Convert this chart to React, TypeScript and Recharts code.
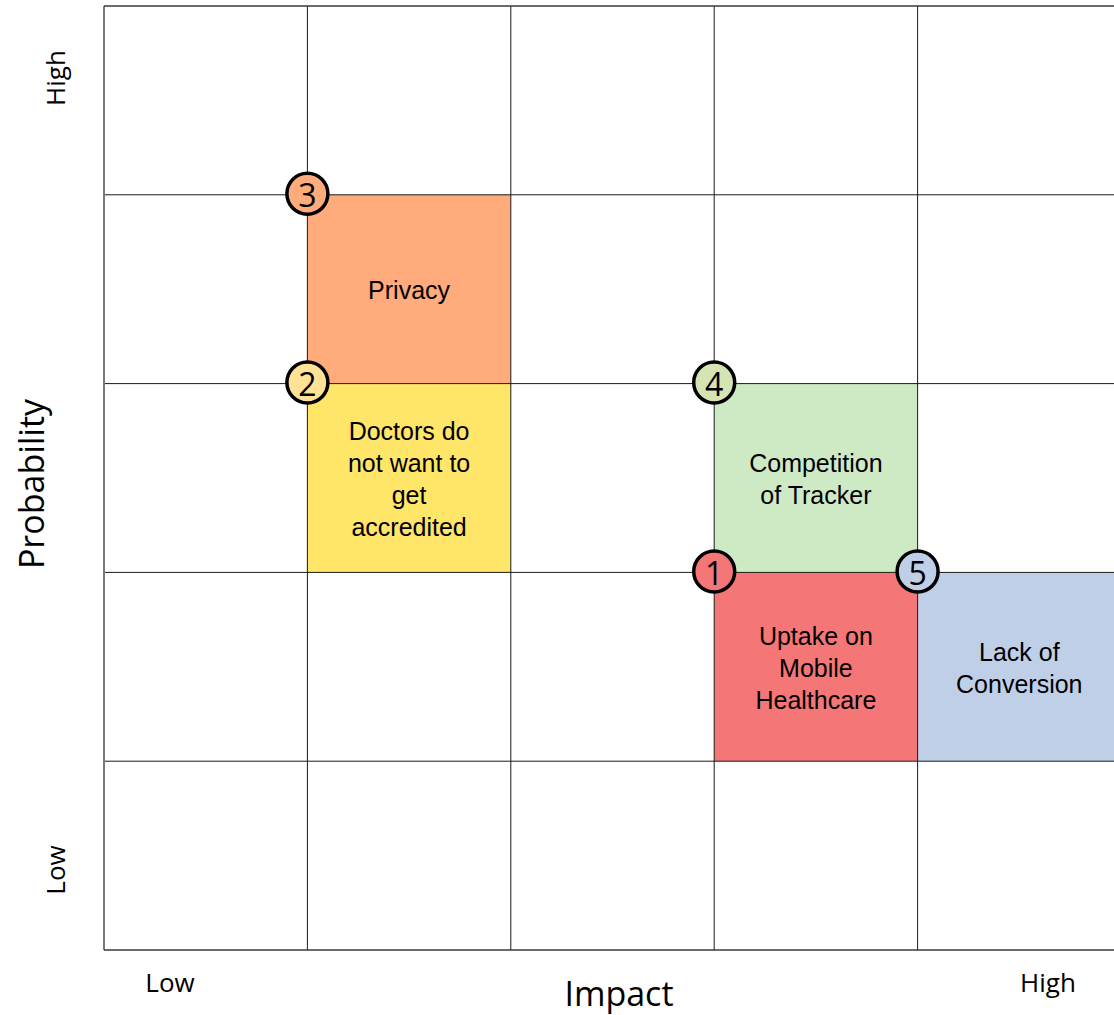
import React from 'react';
import { ScatterChart, Scatter, XAxis, YAxis, ReferenceArea, ReferenceLine } from 'recharts';

// Risk matrix: 5 impact columns x 5 probability rows
const gridSteps = [1, 2, 3, 4];
const impactTicks = ['Low', 'High'];
const probabilityTicks = ['High', 'Low'];

// one entry per risk, cells addressed by their lower-left corner
const riskIds = [1, 2, 3, 4, 5];
const riskImpact = [3, 1, 1, 3, 4];
const riskProbability = [1, 2, 3, 2, 1];
const riskLabels = [
  ['Uptake on', 'Mobile', 'Healthcare'],
  ['Doctors do', 'not want to', 'get', 'accredited'],
  ['Privacy'],
  ['Competition', 'of Tracker'],
  ['Lack of', 'Conversion'],
];
const cellColors = ['#F47676', '#FFE568', '#FFAB7B', '#CDEAC4', '#BFCFE7'];
const badgeColors = ['#F47676', '#FFE295', '#FFAB7B', '#D6E4B4', '#BFCFE7'];

const cells = riskIds.map((id, i) => ({
  id,
  x: riskImpact[i],
  y: riskProbability[i],
  color: cellColors[i],
}));

// badge sits on the top-left corner of the cell
const badges = riskIds.map((id, i) => ({
  id,
  x: riskImpact[i],
  y: riskProbability[i] + 1,
  color: badgeColors[i],
}));

const labels = riskIds.map((id, i) => ({
  id,
  x: riskImpact[i] + 0.5,
  y: riskProbability[i] + 0.5,
  lines: riskLabels[i],
}));

const Badge = (props: any) => {
  const { cx, cy, payload } = props;
  return (
    <g>
      <circle cx={cx} cy={cy - 1} r={20.5} fill={payload.color} stroke="#000" strokeWidth={3.5} />
      <text
        x={cx}
        y={cy}
        textAnchor="middle"
        dominantBaseline="central"
        fontFamily="'Open Sans', sans-serif"
        fontSize={32}
        fill="#000"
      >
        {payload.id}
      </text>
    </g>
  );
};

const CellText = (props: any) => {
  const { cx, cy, payload } = props;
  const lh = 31.7;
  const top = cy - ((payload.lines.length - 1) * lh) / 2 + 1;
  return (
    <text
      textAnchor="middle"
      fontFamily="'Liberation Sans', Arial, sans-serif"
      fontSize={25}
      fill="#000"
    >
      {payload.lines.map((l: string, i: number) => (
        <tspan key={i} x={cx} y={top + i * lh} dominantBaseline="central">
          {l}
        </tspan>
      ))}
    </text>
  );
};

const captionFont = "'Open Sans', sans-serif";

export default function App() {
  return (
    <div style={{ position: 'absolute', left: 0, top: 0, width: 1114, height: 1015, overflow: 'hidden', background: '#fff' }}>
      <ScatterChart width={1126} height={1015} margin={{ top: 6, right: 5, bottom: 65, left: 104 }}>
        <XAxis type="number" dataKey="x" domain={[0, 5]} hide />
        <YAxis type="number" dataKey="y" domain={[0, 5]} hide />
        {cells.map((c) => (
          <ReferenceArea key={c.id} x1={c.x} x2={c.x + 1} y1={c.y} y2={c.y + 1} fill={c.color} fillOpacity={1} stroke="none" />
        ))}
        {gridSteps.map((v) => (
          <ReferenceLine key={'v' + v} x={v} stroke="#1a1a1a" strokeWidth={1} />
        ))}
        {gridSteps.map((v) => (
          <ReferenceLine key={'h' + v} y={v} stroke="#1a1a1a" strokeWidth={1} />
        ))}
        <ReferenceLine x={0} stroke="#7a7a7a" strokeWidth={2} />
        <ReferenceLine y={5} stroke="#3a3a3a" strokeWidth={1.5} />
        <ReferenceLine y={0} stroke="#3a3a3a" strokeWidth={1.5} />
        <Scatter data={labels} shape={CellText} isAnimationActive={false} />
        <Scatter data={badges} shape={Badge} isAnimationActive={false} />
      </ScatterChart>
      <svg width={1114} height={1015} style={{ position: 'absolute', left: 0, top: 0, pointerEvents: 'none' }}>
        <g fontFamily={captionFont} fill="#000">
          <text x={170} y={982} textAnchor="middle" dominantBaseline="central" fontSize={26}>{impactTicks[0]}</text>
          <text x={1048} y={982} textAnchor="middle" dominantBaseline="central" fontSize={26}>{impactTicks[1]}</text>
          <text x={619} y={993} textAnchor="middle" dominantBaseline="central" fontSize={34}>Impact</text>
          <text transform="translate(55,78) rotate(-90)" textAnchor="middle" dominantBaseline="central" fontSize={26}>{probabilityTicks[0]}</text>
          <text transform="translate(55,870) rotate(-90)" textAnchor="middle" dominantBaseline="central" fontSize={26}>{probabilityTicks[1]}</text>
          <text transform="translate(31,484) rotate(-90)" textAnchor="middle" dominantBaseline="central" fontSize={34}>Probability</text>
        </g>
      </svg>
    </div>
  );
}
